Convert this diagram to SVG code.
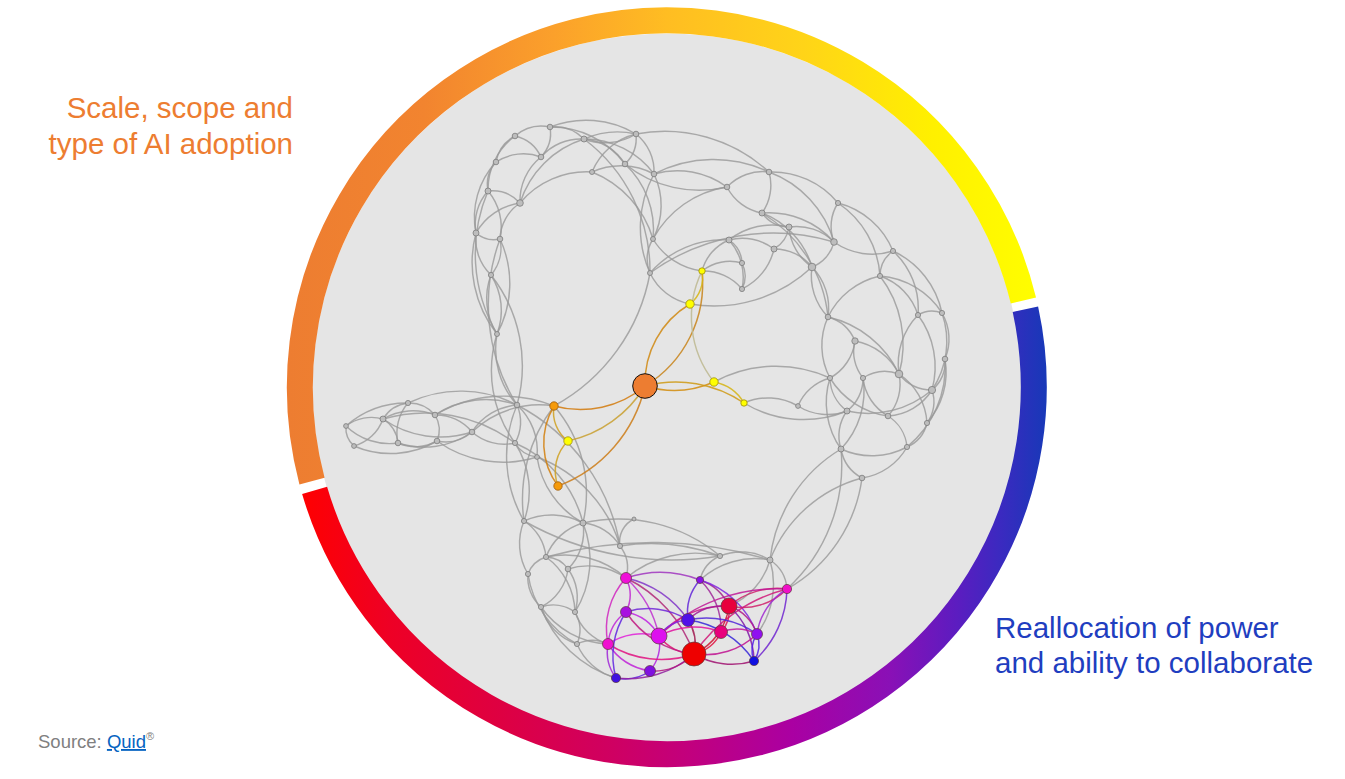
<svg xmlns="http://www.w3.org/2000/svg" width="1345" height="779" viewBox="0 0 1345 779">
<style>
.lbl{font-family:"Liberation Sans",Arial,sans-serif;font-size:29.5px}
.ge path{fill:none;stroke:#989898;stroke-width:1.45;stroke-opacity:0.8}
.gn circle{fill:#bdbdbd;stroke:#7c7c7c;stroke-width:0.8}
.ce path{fill:none;stroke-width:1.5;stroke-opacity:0.85}
.cn circle{stroke:#5a3a3a;stroke-width:0.7}
</style>
<defs>
<linearGradient id="gUp" gradientUnits="userSpaceOnUse" x1="288" y1="0" x2="1046" y2="0">
<stop offset="0" stop-color="#ed7d31"/><stop offset="0.18" stop-color="#f2842f"/><stop offset="0.35" stop-color="#fba02b"/><stop offset="0.5" stop-color="#ffbd22"/><stop offset="0.68" stop-color="#ffd418"/><stop offset="0.85" stop-color="#fff000"/><stop offset="1" stop-color="#ffff00"/>
</linearGradient>
<linearGradient id="gLo" gradientUnits="userSpaceOnUse" x1="300" y1="0" x2="1046" y2="0">
<stop offset="0" stop-color="#ff0000"/><stop offset="0.12" stop-color="#ee0025"/><stop offset="0.27" stop-color="#de0042"/><stop offset="0.42" stop-color="#cf0062"/><stop offset="0.52" stop-color="#c2007d"/><stop offset="0.66" stop-color="#aa00a2"/><stop offset="0.79" stop-color="#8a10b6"/><stop offset="0.88" stop-color="#5c1cc0"/><stop offset="0.94" stop-color="#3a2ac0"/><stop offset="1" stop-color="#1838b8"/>
</linearGradient>
</defs>
<rect width="1345" height="779" fill="#ffffff"/>
<g id="disc"><circle cx="667" cy="388" r="354.5" fill="#e5e5e5"/></g>
<g id="ring" fill="none" stroke-width="26">
<path d="M312.0,481.1 A367,367 0 1,1 1023.4,300.5" stroke="url(#gUp)"/>
<path d="M1025.4,309.2 A367,367 0 0,1 314.6,490.4" stroke="url(#gLo)"/>
</g>
<g id="connectors">
<g class="ge">
<path d="M515,136 A41,41 0 0,1 550,127"/>
<path d="M550,127 A41,41 0 0,1 584,139"/>
<path d="M584,139 A59,59 0 0,0 636,134"/>
<path d="M584,139 A84,84 0 0,1 636,134"/>
<path d="M550,127 A35,35 0 0,1 541,157"/>
<path d="M515,136 A36,36 0 0,0 496,162"/>
<path d="M496,162 A34,34 0 0,0 488,191"/>
<path d="M488,191 A50,50 0 0,0 476,233"/>
<path d="M476,233 A50,50 0 0,0 491,275"/>
<path d="M488,191 A56,56 0 0,1 500,239"/>
<path d="M500,239 A42,42 0 0,1 491,275"/>
<path d="M496,162 A81,81 0 0,0 476,233"/>
<path d="M515,136 A67,67 0 0,0 488,191"/>
<path d="M541,157 A53,53 0 0,1 584,139"/>
<path d="M515,136 A38,38 0 0,1 541,157"/>
<path d="M496,162 A50,50 0 0,1 541,157"/>
<path d="M520,203 A56,56 0 0,1 541,157"/>
<path d="M520,203 A98,98 0 0,1 584,139"/>
<path d="M520,203 A87,87 0 0,1 592,172"/>
<path d="M592,172 A70,70 0 0,1 654,174"/>
<path d="M592,172 A64,64 0 0,1 636,134"/>
<path d="M625,164 A36,36 0 0,0 636,134"/>
<path d="M625,164 A53,53 0 0,0 584,139"/>
<path d="M584,139 A87,87 0 0,1 654,174"/>
<path d="M550,127 A92,92 0 0,1 625,164"/>
<path d="M500,239 A45,45 0 0,1 520,203"/>
<path d="M476,233 A60,60 0 0,1 520,203"/>
<path d="M488,191 A38,38 0 0,1 520,203"/>
<path d="M476,233 A28,28 0 0,0 500,239"/>
<path d="M488,191 A160,160 0 0,0 497,334"/>
<path d="M476,233 A115,115 0 0,0 497,334"/>
<path d="M500,239 A106,106 0 0,1 497,334"/>
<path d="M491,275 A66,66 0 0,0 497,334"/>
<path d="M491,275 A66,66 0 0,1 497,334"/>
<path d="M497,334 A84,84 0 0,0 517,405"/>
<path d="M491,275 A147,147 0 0,1 517,405"/>
<path d="M500,239 A190,190 0 0,0 517,405"/>
<path d="M550,127 A98,98 0 0,1 636,134"/>
<path d="M636,134 A48,48 0 0,1 654,174"/>
<path d="M654,174 A73,73 0 0,1 653,239"/>
<path d="M653,239 A38,38 0 0,0 650,273"/>
<path d="M654,174 A112,112 0 0,0 650,273"/>
<path d="M625,164 A90,90 0 0,1 653,239"/>
<path d="M584,139 A165,165 0 0,1 650,273"/>
<path d="M592,172 A104,104 0 0,1 653,239"/>
<path d="M636,134 A154,154 0 0,1 769,172"/>
<path d="M654,174 A84,84 0 0,1 727,187"/>
<path d="M654,174 A129,129 0 0,1 769,172"/>
<path d="M625,164 A118,118 0 0,0 727,187"/>
<path d="M727,187 A49,49 0 0,1 769,172"/>
<path d="M769,172 A85,85 0 0,1 838,203"/>
<path d="M727,187 A49,49 0 0,0 762,213"/>
<path d="M769,172 A48,48 0 0,1 762,213"/>
<path d="M762,213 A34,34 0 0,0 789,227"/>
<path d="M769,172 A106,106 0 0,1 834,242"/>
<path d="M838,203 A43,43 0 0,0 834,242"/>
<path d="M838,203 A81,81 0 0,1 893,251"/>
<path d="M834,242 A67,67 0 0,0 893,251"/>
<path d="M834,242 A36,36 0 0,1 812,267"/>
<path d="M789,227 A53,53 0 0,0 812,267"/>
<path d="M762,213 A83,83 0 0,1 812,267"/>
<path d="M812,267 A59,59 0 0,1 828,317"/>
<path d="M812,267 A59,59 0 0,0 828,317"/>
<path d="M893,251 A31,31 0 0,0 880,276"/>
<path d="M880,276 A60,60 0 0,1 918,315"/>
<path d="M880,276 A81,81 0 0,1 942,313"/>
<path d="M893,251 A88,88 0 0,1 942,313"/>
<path d="M729,240 A29,29 0 0,1 742,263"/>
<path d="M729,240 A52,52 0 0,1 774,249"/>
<path d="M729,240 A46,46 0 0,0 702,271"/>
<path d="M729,240 A70,70 0 0,1 789,227"/>
<path d="M774,249 A31,31 0 0,0 789,227"/>
<path d="M774,249 A48,48 0 0,1 812,267"/>
<path d="M742,263 A45,45 0 0,0 702,271"/>
<path d="M742,289 A50,50 0 0,0 702,271"/>
<path d="M742,289 A59,59 0 0,0 774,249"/>
<path d="M742,263 A29,29 0 0,1 742,289"/>
<path d="M729,240 A56,56 0 0,1 742,289"/>
<path d="M650,273 A56,56 0 0,0 690,304"/>
<path d="M650,273 A210,210 0 0,1 834,242"/>
<path d="M690,304 A143,143 0 0,0 812,267"/>
<path d="M653,239 A101,101 0 0,1 727,187"/>
<path d="M762,213 A87,87 0 0,1 834,242"/>
<path d="M789,227 A53,53 0 0,1 834,242"/>
<path d="M762,213 A137,137 0 0,1 828,317"/>
<path d="M653,239 A67,67 0 0,0 702,271"/>
<path d="M650,273 A97,97 0 0,1 729,240"/>
<path d="M828,317 A41,41 0 0,1 855,341"/>
<path d="M828,317 A69,69 0 0,0 830,378"/>
<path d="M855,341 A49,49 0 0,1 830,378"/>
<path d="M855,341 A42,42 0 0,0 863,378"/>
<path d="M855,341 A62,62 0 0,1 899,374"/>
<path d="M918,315 A27,27 0 0,1 942,313"/>
<path d="M918,315 A70,70 0 0,0 899,374"/>
<path d="M942,313 A52,52 0 0,1 945,359"/>
<path d="M945,359 A36,36 0 0,1 932,390"/>
<path d="M899,374 A42,42 0 0,0 932,390"/>
<path d="M899,374 A41,41 0 0,0 863,378"/>
<path d="M899,374 A48,48 0 0,1 888,416"/>
<path d="M899,374 A63,63 0 0,1 927,423"/>
<path d="M932,390 A98,98 0 0,1 847,411"/>
<path d="M932,390 A56,56 0 0,1 888,416"/>
<path d="M932,390 A36,36 0 0,1 927,423"/>
<path d="M830,378 A42,42 0 0,0 847,411"/>
<path d="M863,378 A41,41 0 0,1 847,411"/>
<path d="M798,406 A48,48 0 0,1 830,378"/>
<path d="M798,406 A55,55 0 0,0 847,411"/>
<path d="M847,411 A42,42 0 0,0 841,449"/>
<path d="M888,416 A41,41 0 0,1 907,447"/>
<path d="M841,449 A74,74 0 0,0 907,447"/>
<path d="M841,449 A41,41 0 0,0 862,478"/>
<path d="M907,447 A62,62 0 0,1 862,478"/>
<path d="M927,423 A35,35 0 0,1 907,447"/>
<path d="M945,359 A77,77 0 0,1 927,423"/>
<path d="M942,313 A87,87 0 0,1 932,390"/>
<path d="M918,315 A87,87 0 0,1 932,390"/>
<path d="M880,276 A112,112 0 0,1 899,374"/>
<path d="M828,317 A104,104 0 0,1 899,374"/>
<path d="M893,251 A78,78 0 0,1 918,315"/>
<path d="M830,378 A81,81 0 0,0 841,449"/>
<path d="M863,378 A84,84 0 0,1 841,449"/>
<path d="M863,378 A50,50 0 0,0 888,416"/>
<path d="M945,359 A104,104 0 0,1 907,447"/>
<path d="M880,276 A76,76 0 0,0 828,317"/>
<path d="M838,203 A95,95 0 0,1 880,276"/>
<path d="M830,378 A81,81 0 0,0 888,416"/>
<path d="M744,403 A60,60 0 0,1 798,406"/>
<path d="M744,403 A115,115 0 0,0 847,411"/>
<path d="M714,382 A130,130 0 0,1 830,378"/>
<path d="M841,449 A148,148 0 0,0 770,560"/>
<path d="M862,478 A137,137 0 0,0 770,560"/>
<path d="M862,478 A150,150 0 0,1 787,589"/>
<path d="M841,449 A168,168 0 0,1 787,589"/>
<path d="M720,556 A56,56 0 0,1 770,560"/>
<path d="M770,560 A38,38 0 0,1 787,589"/>
<path d="M346,426 A42,42 0 0,1 383,419"/>
<path d="M346,426 A24,24 0 0,0 354,446"/>
<path d="M354,446 A43,43 0 0,0 383,419"/>
<path d="M346,426 A62,62 0 0,0 398,443"/>
<path d="M383,419 A34,34 0 0,1 408,403"/>
<path d="M408,403 A34,34 0 0,1 435,415"/>
<path d="M383,419 A59,59 0 0,1 435,415"/>
<path d="M383,419 A32,32 0 0,1 398,443"/>
<path d="M408,403 A46,46 0 0,0 398,443"/>
<path d="M398,443 A43,43 0 0,0 437,441"/>
<path d="M435,415 A29,29 0 0,1 437,441"/>
<path d="M435,415 A46,46 0 0,1 472,432"/>
<path d="M437,441 A41,41 0 0,0 472,432"/>
<path d="M383,419 A101,101 0 0,0 472,432"/>
<path d="M398,443 A84,84 0 0,0 472,432"/>
<path d="M435,415 A92,92 0 0,1 517,405"/>
<path d="M472,432 A59,59 0 0,1 517,405"/>
<path d="M472,432 A49,49 0 0,0 515,443"/>
<path d="M354,446 A92,92 0 0,0 437,441"/>
<path d="M383,419 A150,150 0 0,1 515,443"/>
<path d="M408,403 A122,122 0 0,1 517,405"/>
<path d="M437,441 A113,113 0 0,0 537,457"/>
<path d="M472,432 A97,97 0 0,1 554,406"/>
<path d="M435,415 A134,134 0 0,1 554,406"/>
<path d="M346,426 A92,92 0 0,1 408,403"/>
<path d="M517,405 A42,42 0 0,1 515,443"/>
<path d="M517,405 A62,62 0 0,1 537,457"/>
<path d="M515,443 A29,29 0 0,0 537,457"/>
<path d="M517,405 A130,130 0 0,0 524,521"/>
<path d="M515,443 A88,88 0 0,1 524,521"/>
<path d="M515,443 A118,118 0 0,1 583,523"/>
<path d="M537,457 A91,91 0 0,0 583,523"/>
<path d="M517,405 A196,196 0 0,1 620,546"/>
<path d="M554,406 A133,133 0 0,1 583,523"/>
<path d="M537,457 A136,136 0 0,1 620,546"/>
<path d="M497,334 A123,123 0 0,0 515,443"/>
<path d="M554,406 A190,190 0 0,0 650,273"/>
<path d="M554,406 A154,154 0 0,0 524,521"/>
<path d="M524,521 A48,48 0 0,1 546,557"/>
<path d="M524,521 A59,59 0 0,0 528,574"/>
<path d="M524,521 A66,66 0 0,1 583,523"/>
<path d="M583,523 A56,56 0 0,0 546,557"/>
<path d="M583,523 A53,53 0 0,1 568,569"/>
<path d="M583,523 A48,48 0 0,1 620,546"/>
<path d="M546,557 A28,28 0 0,1 568,569"/>
<path d="M546,557 A28,28 0 0,0 528,574"/>
<path d="M568,569 A49,49 0 0,1 541,607"/>
<path d="M528,574 A39,39 0 0,0 541,607"/>
<path d="M541,607 A38,38 0 0,1 575,612"/>
<path d="M575,612 A36,36 0 0,1 577,644"/>
<path d="M541,607 A56,56 0 0,0 577,644"/>
<path d="M568,569 A48,48 0 0,1 575,612"/>
<path d="M546,557 A70,70 0 0,1 575,612"/>
<path d="M620,546 A200,200 0 0,1 720,556"/>
<path d="M583,523 A158,158 0 0,1 720,556"/>
<path d="M620,546 A36,36 0 0,1 626,578"/>
<path d="M620,546 A25,25 0 0,1 634,519"/>
<path d="M568,569 A66,66 0 0,1 626,578"/>
<path d="M546,557 A92,92 0 0,1 626,578"/>
<path d="M577,644 A35,35 0 0,1 608,644"/>
<path d="M575,612 A50,50 0 0,0 608,644"/>
<path d="M541,607 A87,87 0 0,0 608,644"/>
<path d="M577,644 A59,59 0 0,0 616,678"/>
<path d="M770,560 A81,81 0 0,0 700,580"/>
<path d="M720,556 A109,109 0 0,0 626,578"/>
<path d="M720,556 A35,35 0 0,0 700,580"/>
<path d="M770,560 A70,70 0 0,1 729,606"/>
<path d="M770,560 A84,84 0 0,1 757,634"/>
<path d="M546,557 A400,400 0 0,1 770,560"/>
<path d="M524,521 A300,300 0 0,0 720,556"/>
<path d="M528,574 A95,95 0 0,0 577,644"/>
<path d="M541,607 A116,116 0 0,0 616,678"/>
<path d="M583,523 A99,99 0 0,1 575,612"/>
</g>
<g class="ce">
<path d="M645,386 A100,100 0 0,1 554,406" stroke="#d27a0c" stroke-width="3.4"/>
<path d="M554,406 A72,72 0 0,0 558,486" stroke="#d27f0c" stroke-width="3.2"/>
<path d="M554,406 A36,36 0 0,0 568,441" stroke="#cfa020" stroke-width="1.7"/>
<path d="M568,441 A42,42 0 0,0 558,486" stroke="#cfa020" stroke-width="1.7"/>
<path d="M645,386 A120,120 0 0,1 568,441" stroke="#c9a030" stroke-width="1.7"/>
<path d="M645,386 A140,140 0 0,1 558,486" stroke="#cc7d18" stroke-width="2"/>
<path d="M645,386 A92,92 0 0,1 690,304" stroke="#d08810" stroke-width="2.8"/>
<path d="M645,386 A120,120 0 0,0 702,271" stroke="#c8841a" stroke-width="2"/>
<path d="M690,304 A34,34 0 0,0 702,271" stroke="#d6b410" stroke-width="1.8"/>
<path d="M645,386 A100,100 0 0,0 714,382" stroke="#d28c0c" stroke-width="2.8"/>
<path d="M645,386 A120,120 0 0,1 744,403" stroke="#cf9a14" stroke-width="2.2"/>
<path d="M714,382 A44,44 0 0,1 744,403" stroke="#d6b412" stroke-width="1.8"/>
<path d="M702,271 A105,105 0 0,0 714,382" stroke="#bdb890" stroke-width="1.6"/>
<path d="M626,578 A110,110 0 0,1 700,580" stroke="#a035c0"/>
<path d="M626,578 A75,75 0 0,0 608,644" stroke="#d025c0"/>
<path d="M626,578 A38,38 0 0,1 626,612" stroke="#c025d0"/>
<path d="M626,578 A135,135 0 0,1 694,654" stroke="#b02878"/>
<path d="M626,578 A110,110 0 0,1 659,636" stroke="#c030d0"/>
<path d="M626,578 A100,100 0 0,1 688,620" stroke="#8035c8"/>
<path d="M700,580 A50,50 0 0,0 688,620" stroke="#6025d8"/>
<path d="M700,580 A50,50 0 0,1 729,606" stroke="#a02888"/>
<path d="M700,580 A68,68 0 0,1 721,632" stroke="#a0289a"/>
<path d="M700,580 A88,88 0 0,1 757,634" stroke="#8025e0"/>
<path d="M787,589 A75,75 0 0,0 729,606" stroke="#d0206a"/>
<path d="M787,589 A62,62 0 0,1 729,606" stroke="#d0206a"/>
<path d="M787,589 A160,160 0 0,0 694,654" stroke="#d01878"/>
<path d="M787,589 A62,62 0 0,0 757,634" stroke="#a028d0"/>
<path d="M787,589 A100,100 0 0,1 754,661" stroke="#7025d0"/>
<path d="M787,589 A170,170 0 0,0 659,636" stroke="#c01898"/>
<path d="M729,606 A62,62 0 0,1 694,654" stroke="#d0102e" stroke-width="2.2"/>
<path d="M729,606 A32,32 0 0,1 721,632" stroke="#e01055"/>
<path d="M729,606 A44,44 0 0,1 757,634" stroke="#b01888"/>
<path d="M729,606 A88,88 0 0,0 659,636" stroke="#d01888"/>
<path d="M729,606 A50,50 0 0,0 688,620" stroke="#a01898"/>
<path d="M729,606 A75,75 0 0,1 754,661" stroke="#8018a8"/>
<path d="M688,620 A44,44 0 0,1 694,654" stroke="#a0184e"/>
<path d="M688,620 A94,94 0 0,1 754,661" stroke="#3525d8"/>
<path d="M688,620 A88,88 0 0,1 757,634" stroke="#5025d8"/>
<path d="M688,620 A38,38 0 0,0 659,636" stroke="#8025e0"/>
<path d="M688,620 A75,75 0 0,0 626,612" stroke="#7025d8"/>
<path d="M721,632 A38,38 0 0,1 694,654" stroke="#e01040"/>
<path d="M721,632 A44,44 0 0,1 757,634" stroke="#c018a0"/>
<path d="M721,632 A75,75 0 0,0 659,636" stroke="#e010a0"/>
<path d="M659,636 A44,44 0 0,0 694,654" stroke="#e01070"/>
<path d="M659,636 A62,62 0 0,0 608,644" stroke="#e020d8"/>
<path d="M659,636 A44,44 0 0,1 650,671" stroke="#b020e0"/>
<path d="M659,636 A48,48 0 0,0 626,612" stroke="#c020e0"/>
<path d="M608,644 A44,44 0 0,0 616,678" stroke="#a025d8"/>
<path d="M608,644 A62,62 0 0,0 650,671" stroke="#c020d8"/>
<path d="M608,644 A100,100 0 0,0 694,654" stroke="#e01080"/>
<path d="M616,678 A44,44 0 0,0 650,671" stroke="#6020e0"/>
<path d="M616,678 A100,100 0 0,0 694,654" stroke="#9020a0"/>
<path d="M650,671 A56,56 0 0,0 694,654" stroke="#b01880"/>
<path d="M694,654 A75,75 0 0,0 754,661" stroke="#a01070"/>
<path d="M694,654 A75,75 0 0,0 757,634" stroke="#c01090"/>
<path d="M757,634 A30,30 0 0,1 754,661" stroke="#5020e8"/>
<path d="M757,634 A30,30 0 0,0 754,661" stroke="#5020e8"/>
<path d="M626,612 A44,44 0 0,0 608,644" stroke="#c020d8"/>
<path d="M626,612 A94,94 0 0,0 694,654" stroke="#c01880"/>
<path d="M616,678 A80,80 0 0,1 626,612" stroke="#6025e0"/>
</g>
</g>
<g id="gray-nodes" class="gn">
<circle cx="550" cy="127" r="2.8"/><circle cx="515" cy="136" r="2.8"/><circle cx="584" cy="139" r="3"/><circle cx="636" cy="134" r="2.8"/>
<circle cx="541" cy="157" r="2.8"/><circle cx="496" cy="162" r="2.8"/><circle cx="625" cy="164" r="2.8"/><circle cx="592" cy="172" r="2.5"/>
<circle cx="654" cy="174" r="2.8"/><circle cx="488" cy="191" r="3"/><circle cx="520" cy="203" r="3.3"/><circle cx="476" cy="233" r="3"/>
<circle cx="500" cy="239" r="2.8"/><circle cx="491" cy="275" r="2.6"/><circle cx="497" cy="334" r="2.5"/><circle cx="653" cy="239" r="2.5"/>
<circle cx="650" cy="273" r="2.5"/>
<circle cx="727" cy="187" r="2.8"/><circle cx="769" cy="172" r="2.8"/><circle cx="838" cy="203" r="2.6"/><circle cx="762" cy="213" r="3"/>
<circle cx="789" cy="227" r="3"/><circle cx="729" cy="240" r="3"/><circle cx="774" cy="249" r="3"/><circle cx="834" cy="242" r="3.3"/>
<circle cx="893" cy="251" r="2.6"/><circle cx="742" cy="263" r="2.6"/><circle cx="812" cy="267" r="3.8"/><circle cx="880" cy="276" r="2.6"/>
<circle cx="742" cy="289" r="2.6"/><circle cx="828" cy="317" r="2.8"/><circle cx="918" cy="315" r="2.6"/><circle cx="942" cy="313" r="2.6"/>
<circle cx="855" cy="341" r="3.2"/><circle cx="945" cy="359" r="2.8"/><circle cx="899" cy="374" r="3.8"/><circle cx="830" cy="378" r="2.6"/>
<circle cx="863" cy="378" r="2.6"/><circle cx="932" cy="390" r="3.6"/><circle cx="798" cy="406" r="2.4"/><circle cx="847" cy="411" r="3"/>
<circle cx="888" cy="416" r="2.8"/><circle cx="927" cy="423" r="2.6"/><circle cx="841" cy="449" r="3"/><circle cx="907" cy="447" r="2.6"/>
<circle cx="862" cy="478" r="2.8"/>
<circle cx="346" cy="426" r="2.4"/><circle cx="354" cy="446" r="2.4"/><circle cx="383" cy="419" r="3"/><circle cx="408" cy="403" r="2.6"/>
<circle cx="398" cy="443" r="2.8"/><circle cx="435" cy="415" r="2.8"/><circle cx="437" cy="441" r="2.8"/><circle cx="472" cy="432" r="2.8"/>
<circle cx="517" cy="405" r="2.8"/><circle cx="515" cy="443" r="2.6"/><circle cx="537" cy="457" r="2.4"/>
<circle cx="524" cy="521" r="2.6"/><circle cx="583" cy="523" r="3"/><circle cx="634" cy="519" r="2" fill="#999" stroke="none"/><circle cx="546" cy="557" r="2.6"/>
<circle cx="568" cy="569" r="2.8"/><circle cx="528" cy="574" r="2.6"/><circle cx="620" cy="546" r="2.6"/><circle cx="720" cy="556" r="2.6"/>
<circle cx="770" cy="560" r="3"/><circle cx="541" cy="607" r="2.6"/><circle cx="575" cy="612" r="2.6"/><circle cx="577" cy="644" r="2.6"/>
</g>
<g id="orange-cluster">
<circle id="n-o1" cx="645" cy="386" r="12.3" fill="#ed7d31" stroke="#111" stroke-width="1"/>
<circle id="n-o2" cx="554" cy="406" r="4.2" fill="#f59a0a" stroke="#9a5a10" stroke-width="0.8"/>
<circle id="n-o3" cx="558" cy="486" r="4.2" fill="#f59a0a" stroke="#9a5a10" stroke-width="0.8"/>
<circle id="n-y1" cx="690" cy="304" r="4.2" fill="#ffff00" stroke="#9a8a10" stroke-width="0.8"/>
<circle id="n-y2" cx="702" cy="271" r="3.2" fill="#ffff00" stroke="#9a8a10" stroke-width="0.8"/>
<circle id="n-y3" cx="714" cy="382" r="4.2" fill="#ffff00" stroke="#9a8a10" stroke-width="0.8"/>
<circle id="n-y4" cx="744" cy="403" r="3.2" fill="#ffff00" stroke="#9a8a10" stroke-width="0.8"/>
<circle id="n-y5" cx="568" cy="441" r="4.2" fill="#ffff00" stroke="#9a8a10" stroke-width="0.8"/>
</g>
<g id="purple-cluster" class="cn">
<circle id="n-p1" cx="626" cy="578" r="5.5" fill="#f010d8"/>
<circle id="n-p2" cx="700" cy="580" r="3.6" fill="#8a10e8"/>
<circle id="n-p3" cx="787" cy="589" r="4.6" fill="#f010c8"/>
<circle id="n-p4" cx="729" cy="606" r="8" fill="#e8003c"/>
<circle id="n-p5" cx="626" cy="612" r="5.5" fill="#a810e0"/>
<circle id="n-p6" cx="688" cy="620" r="6.5" fill="#5010e8"/>
<circle id="n-p7" cx="721" cy="632" r="6.5" fill="#e8007c"/>
<circle id="n-p8" cx="757" cy="634" r="5.5" fill="#9010f0"/>
<circle id="n-p9" cx="659" cy="636" r="8" fill="#dd10ee"/>
<circle id="n-p10" cx="608" cy="644" r="5.5" fill="#f010d0"/>
<circle id="n-p11" cx="694" cy="654" r="12" fill="#ee0000"/>
<circle id="n-p12" cx="754" cy="661" r="4.6" fill="#1010e0"/>
<circle id="n-p13" cx="650" cy="671" r="5.5" fill="#8010e0"/>
<circle id="n-p14" cx="616" cy="678" r="4.6" fill="#4010e0"/>
</g>
<g id="label-left" class="lbl" fill="#ed7d31" text-anchor="end">
<text x="293" y="118">Scale, scope and</text>
<text x="293" y="154">type of AI adoption</text>
</g>
<g id="label-right" class="lbl" fill="#1f3ec0">
<text x="995" y="638">Reallocation of power</text>
<text x="995" y="673">and ability to collaborate</text>
</g>
<g id="source" font-family="'Liberation Sans',Arial,sans-serif" font-size="18.5">
<text x="38" y="748" fill="#808080">Source: <tspan fill="#0563c1" text-decoration="underline">Quid</tspan><tspan font-size="11" dy="-8" fill="#808080">®</tspan></text>
</g>
</svg>
